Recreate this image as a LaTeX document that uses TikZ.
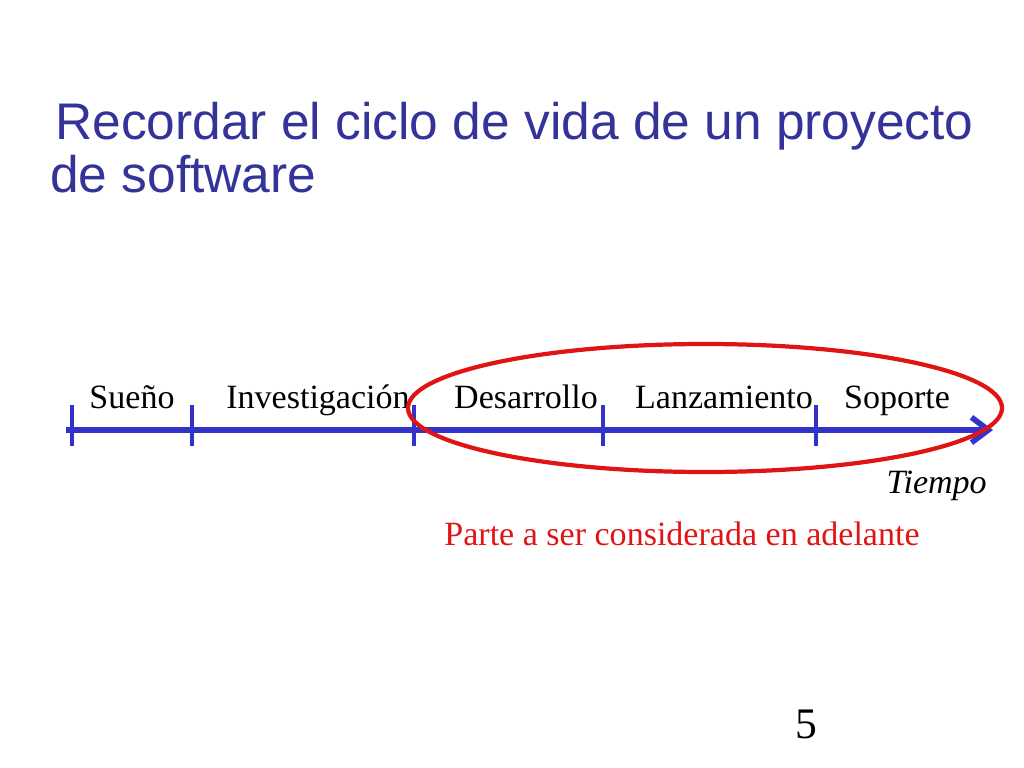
\documentclass[tikz,border=0pt]{standalone}
\usepackage{fontspec}
\setmainfont{Liberation Serif}
\newfontfamily\titlefont{Liberation Sans}
\usetikzlibrary{positioning,arrows.meta}
\definecolor{axisblue}{RGB}{51,51,204}
\definecolor{titleblue}{RGB}{51,51,153}
\definecolor{markred}{RGB}{225,20,20}
\begin{document}
\begin{tikzpicture}
[
    x=0.025cm, y=-0.025cm,
    title/.style={anchor=base west, inner sep=0pt, text=titleblue, font=\titlefont\fontsize{36.6}{44}\selectfont},
    phase/.style={anchor=base, inner sep=0pt, font=\fontsize{24.2}{29}\selectfont},
    axis/.style={axisblue, line width=4.3pt, -{Straight Barb[length=12pt,width=18pt,line width=4pt]}},
    tickmark/.style={axisblue, line width=3pt},
]
\useasboundingbox (0,0) rectangle (1024,768);
\node[title] (line1) at (55,140) {Recordar el ciclo de vida de un proyecto};
\node[title] (line2) at (50,192) {de software};
% time axis
\coordinate (start) at (66,430);
\coordinate (end) at (993,430);
\draw[axis] (start) -- (end);
\foreach \x [count=\i] in {72,192,414,603,816}
    \draw[tickmark] (\x,405) coordinate (m\i) -- (\x,446);
\node[phase] (dream) at (132,408) {Sueño};
\node[phase] (research) at (318,408) {Investigación};
\node[phase] (develop) at (526,408) {Desarrollo};
\node[phase] (launch) at (724,408) {Lanzamiento};
\node[phase] (support) at (897,408) {Soporte};
\node[phase, anchor=base east, font=\fontsize{24.2}{29}\selectfont\itshape] (time) at (987,493) {Tiempo};
% part to be considered
\draw[markred, line width=3pt] (705,408) ellipse [x radius=297, y radius=64];
\node[phase, text=markred] (note) at (682,545) {Parte a ser considerada en adelante};
\node[phase, font=\fontsize{31}{36}\selectfont] (page) at (806,738) {5};
\end{tikzpicture}
\end{document}
